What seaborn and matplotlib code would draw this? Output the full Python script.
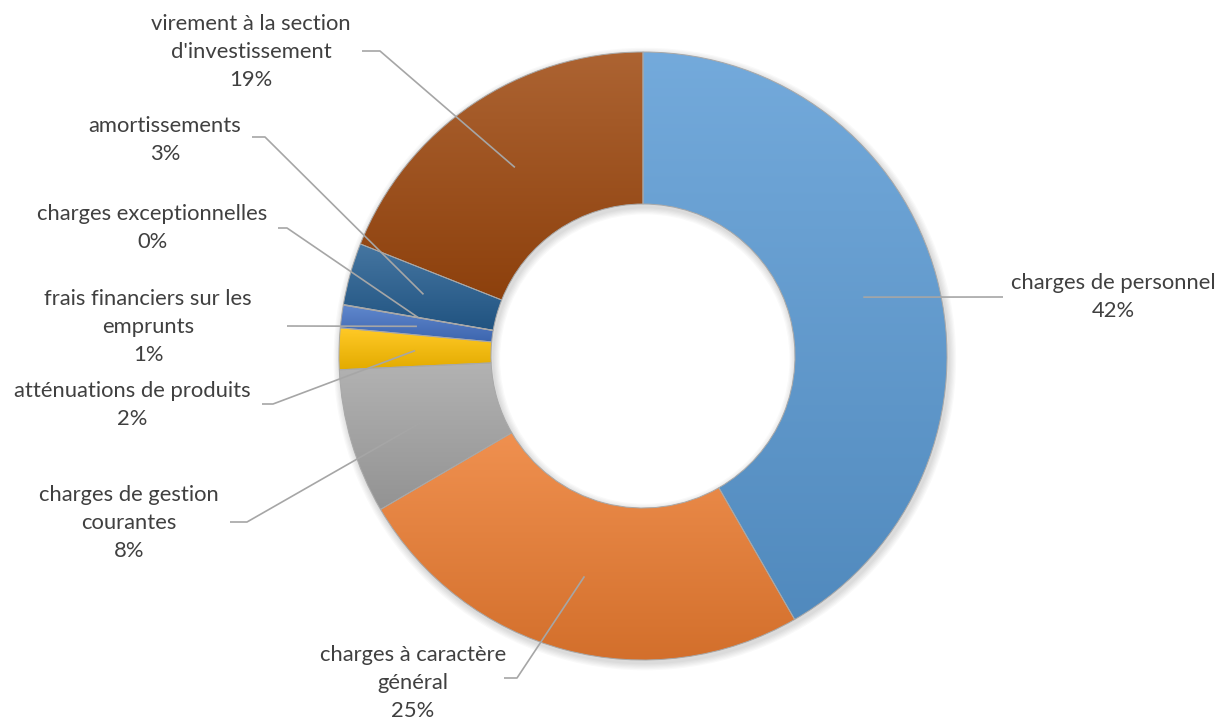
import numpy as np
import matplotlib
matplotlib.use("Agg")
import matplotlib.pyplot as plt
import matplotlib.colors as mcolors
from matplotlib.patches import Wedge
import seaborn as sns

# Données (budget de fonctionnement, dépenses)
categories = [
    "charges de personnel",
    "charges à caractère\ngénéral",
    "charges de gestion\ncourantes",
    "atténuations de produits",
    "frais financiers sur les\nemprunts",
    "charges exceptionnelles",
    "amortissements",
    "virement à la section\nd'investissement",
]
values = [41.7, 24.9, 7.7, 2.2, 1.2, 0.03, 3.3, 19.0]
base_colors = ["#5B9BD5", "#ED7D31", "#A5A5A5", "#FFC000",
               "#4472C4", "#70AD47", "#255E91", "#9E480E"]

# mise en page, en pixels de la figure 1220x720
W, H = 1220, 720
CX, CY, R = 643, 356, 304
label_xy = [(1113, 297), (413, 683), (129, 523), (132, 405),
            (148, 327), (152, 228), (165, 140), (251, 52)]
elbow_xy = [None, (517, 678), (247, 522), (273, 404),
            None, (287, 228), (265, 137), (380, 51)]
end_xy = [(1003, 297), (504, 678), (230, 522), (262, 404),
          (287, 326), (278, 228), (252, 137), (362, 51)]


def to_data(p):
    return (p[0] - CX) / R, (CY - p[1]) / R


sns.set_theme(style="white")
plt.rcParams['font.family'] = ['Lato', 'DejaVu Sans']

fig = plt.figure(figsize=(12.2, 7.2), dpi=100)
ax = fig.add_axes([0, 0, 1, 1])

palette = sns.color_palette(base_colors)
wedges, _ = ax.pie(values, colors=palette, startangle=90, counterclock=False,
                   radius=1.0,
                   wedgeprops=dict(width=0.5, edgecolor="#a8a8a8", linewidth=0.7))

# ombre douce autour de l'anneau
for k in range(1, 7):
    d = 0.004 * k
    sh = Wedge((0.006, -0.01), 1 + d, 0, 360, width=0.5 + 2 * d,
               facecolor="black", edgecolor="none", alpha=0.025, zorder=0.2)
    ax.add_patch(sh)

# dégradé vertical dans chaque part
t = np.linspace(0, 1, 128)[:, None, None]
for w, c in zip(wedges, palette):
    rgb = np.array(mcolors.to_rgb(c))
    top = rgb * 0.85 + 0.15
    bot = rgb * 0.89
    grad = top * (1 - t) + bot * t
    ext = w.get_path().get_extents()
    im = ax.imshow(grad, extent=(ext.x0, ext.x1, ext.y0, ext.y1), origin="upper",
                   aspect="auto", interpolation="bilinear", zorder=0.5)
    im.set_clip_path(w)
    w.set_facecolor("none")
    w.set_zorder(1)

# étiquettes et lignes de repère
total = sum(values)
for i, (w, name) in enumerate(zip(wedges, categories)):
    mid = np.deg2rad((w.theta1 + w.theta2) / 2)
    pts = [(0.75 * np.cos(mid), 0.75 * np.sin(mid))]
    if elbow_xy[i] is not None:
        pts.append(to_data(elbow_xy[i]))
    pts.append(to_data(end_xy[i]))
    xs, ys = zip(*pts)
    ax.plot(xs, ys, color="#a6a6a6", lw=1.2, zorder=3, solid_capstyle="butt")
    pct = f"{round(values[i] / total * 100)}%"
    lx, ly = to_data(label_xy[i])
    ax.text(lx, ly, f"{name}\n{pct}", ha="center", va="center",
            fontsize=15.8, color="#404040", linespacing=1.5, zorder=4)

ax.set_xlim(-CX / R, (W - CX) / R)
ax.set_ylim(-(H - CY) / R, CY / R)
ax.axis("off")

fig.savefig("out.png", dpi=100)
